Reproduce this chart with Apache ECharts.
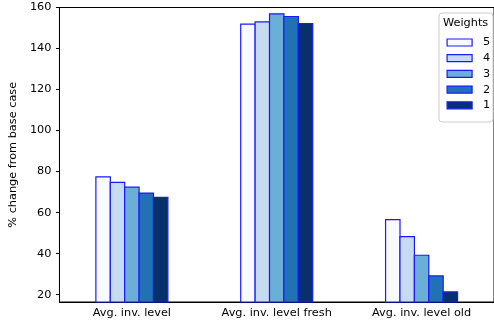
<!DOCTYPE html>
<html>
<head>
<meta charset="utf-8">
<script src="https://cdn.jsdelivr.net/npm/echarts@6/dist/echarts.min.js"></script>
<style>html,body{margin:0;padding:0;background:#fff;overflow:hidden;}#c{width:494px;height:329px;}</style>
</head>
<body>
<div id="c"></div>
<script>
const categories = ['Avg. inv. level', 'Avg. inv. level fresh', 'Avg. inv. level old'];
const weightNames = ['5', '4', '3', '2', '1'];
const weight5 = [77.7, 152.2, 56.9];
const weight4 = [75.0, 153.3, 48.6];
const weight3 = [72.7, 157.2, 39.5];
const weight2 = [69.8, 155.9, 29.4];
const weight1 = [67.7, 152.5, 21.6];
const yTicks = [20, 40, 60, 80, 100, 120, 140, 160];

const seriesValues = [weight5, weight4, weight3, weight2, weight1];
const colors = ['#f7fbff', '#c6dbef', '#6baed6', '#2171b5', '#08306b'];
const font = 'DejaVu Sans';
const fs = 11.3;

const chart = echarts.init(document.getElementById('c'), null, {renderer: 'canvas'});
chart.setOption({
  animation: false,
  textStyle: {fontFamily: font},
  grid: {left: 59, top: 7.5, width: 444.6, height: 294.5, show: true, borderColor: '#000', borderWidth: 1, backgroundColor: 'transparent'},
  xAxis: {
    type: 'category', data: categories, boundaryGap: true,
    axisLine: {lineStyle: {color: '#000', width: 1}},
    axisTick: {alignWithLabel: true, length: 3.5, lineStyle: {color: '#000'}},
    axisLabel: {color: '#000', fontSize: fs, fontFamily: font, margin: 6, interval: 0},
    splitLine: {show: false}
  },
  yAxis: {
    type: 'value', min: 16.4, max: 160,
    name: '% change from base case', nameLocation: 'middle', nameGap: 35,
    nameTextStyle: {color: '#000', fontSize: fs, fontFamily: font},
    axisLine: {show: true, lineStyle: {color: '#000', width: 1}},
    axisTick: {show: true, length: 3.5, lineStyle: {color: '#000'}, customValues: yTicks},
    axisLabel: {color: '#000', fontSize: fs, fontFamily: font, margin: 8, customValues: yTicks},
    splitLine: {show: false}
  },
  legend: {
    orient: 'vertical', left: 446.5, top: 37, itemWidth: 25, itemHeight: 7, itemGap: 4.7,
    icon: 'rect',
    data: weightNames, padding: 0, z: 20,
    textStyle: {color: '#000', fontSize: fs, fontFamily: font, padding: [0, 0, 0, 6]},
    itemStyle: {borderColor: '#1a1aff', borderWidth: 1.2}
  },
  graphic: [
    {type: 'rect', left: 438.5, top: 12.5, shape: {width: 54, height: 109, r: 3}, style: {fill: '#fff', stroke: '#cccccc', lineWidth: 1}, z: 1},
    {type: 'text', left: 443, top: 17.5, style: {text: 'Weights', fill: '#000', font: fs + 'px "DejaVu Sans"'}, z: 2}
  ],
  series: seriesValues.map((vals, i) => ({
    name: weightNames[i], type: 'bar', data: vals,
    barGap: '-8%', barWidth: '10.8%',
    itemStyle: {color: colors[i], borderColor: '#1a1aff', borderWidth: 1.2}
  }))
});
</script>
</body>
</html>
